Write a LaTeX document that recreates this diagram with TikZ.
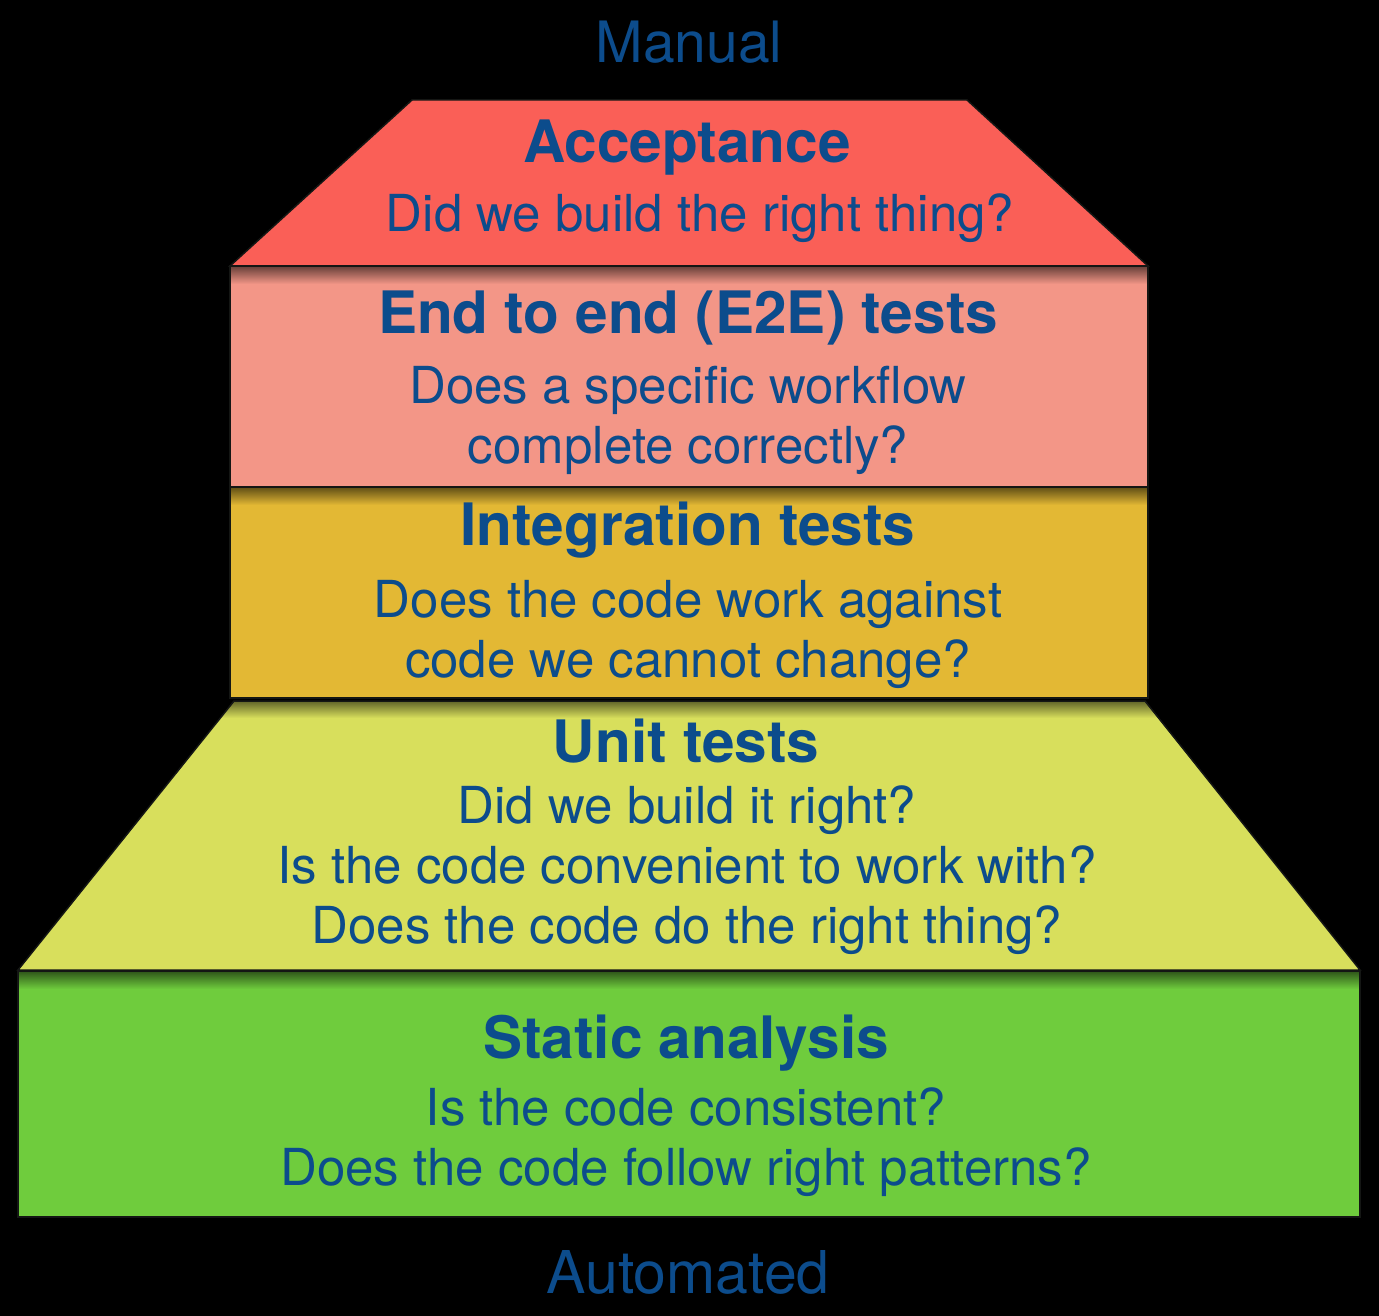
\documentclass[tikz,border=0pt]{standalone}
\usepackage{fontspec}
\setmainfont{TeX Gyre Heros}
\definecolor{txt}{RGB}{12,76,140}
\definecolor{accfill}{RGB}{250,95,87}
\definecolor{e2efill}{RGB}{243,150,135}
\definecolor{intfill}{RGB}{227,184,52}
\definecolor{unitfill}{RGB}{216,223,92}
\definecolor{statfill}{RGB}{111,204,61}
\definecolor{edge}{RGB}{20,22,20}
\tikzset{
  tierline/.style={draw=edge, line width=1.5pt, line join=miter},
  endlabel/.style={font=\fontsize{57}{60}\selectfont, text=txt, anchor=base, inner sep=0pt},
  tiertitle/.style={font=\bfseries\fontsize{58.5}{60}\selectfont, text=txt, anchor=base, inner sep=0pt},
  tierbody/.style={font=\fontsize{51}{60}\selectfont, text=txt, align=center, anchor=base, inner sep=0pt},
}
\begin{document}
\begin{tikzpicture}[x=1pt,y=-1pt]
\fill[black] (0,0) rectangle (1379,1316);
\useasboundingbox (0,0) rectangle (1379,1316);

% Acceptance
\fill[accfill] (412,100) -- (967,100) -- (1148,266) -- (230,266) -- cycle;
% E2E
\fill[e2efill] (230,266) rectangle (1148,487);
\shade[top color=e2efill!45!black, bottom color=e2efill] (230,267) rectangle (1148,284);
% Integration
\fill[intfill] (230,487) rectangle (1148,698);
\shade[top color=intfill!45!black, bottom color=intfill] (230,488) rectangle (1148,505);
% Unit
\fill[unitfill] (234,701) -- (1145,701) -- (1360,970) -- (18,970) -- cycle;
\begin{scope}
\clip (234,701) -- (1145,701) -- (1360,970) -- (18,970) -- cycle;
\shade[top color=unitfill!45!black, bottom color=unitfill] (0,701) rectangle (1379,718);
\end{scope}
% Static
\fill[statfill] (18,971) rectangle (1360,1217);
\shade[top color=statfill!45!black, bottom color=statfill] (18,972) rectangle (1360,989);

% edges
\draw[tierline] (412,100) -- (967,100) -- (1148,266) -- (230,266) -- cycle;
\draw[tierline] (230,266) rectangle (1148,487);
\draw[tierline] (230,487) rectangle (1148,698);
\draw[tierline] (234,701) -- (1145,701) -- (1360,970) -- (18,970) -- cycle;
\draw[tierline] (18,971) rectangle (1360,1217);

% texts (multi-line nodes: base anchor = last line's baseline)
\node[endlabel] (manual) at (689,63) {Manual};
\node[tiertitle] (acct) at (687,163) {Acceptance};
\node[tierbody] (accq) at (700,232) {Did we build the right thing?};
\node[tiertitle] (e2et) at (688,333) {End to end (E2E) tests};
\node[tierbody] (e2eq) at (688,463) {Does a specific workflow\\complete correctly?};
\node[tiertitle] (intt) at (688,545) {Integration tests};
\node[tierbody] (intq) at (688,677) {Does the code work against\\code we cannot change?};
\node[tiertitle] (unitt) at (686,762) {Unit tests};
\node[tierbody] (unitq) at (687,943) {Did we build it right?\\Is the code convenient to work with?\\Does the code do the right thing?};
\node[tiertitle] (statt) at (686,1058) {Static analysis};
\node[tierbody] (statq) at (686,1185) {Is the code consistent?\\Does the code follow right patterns?};
\node[endlabel, font=\fontsize{59}{60}\selectfont] (auto) at (688,1293) {Automated};
\end{tikzpicture}
\end{document}
